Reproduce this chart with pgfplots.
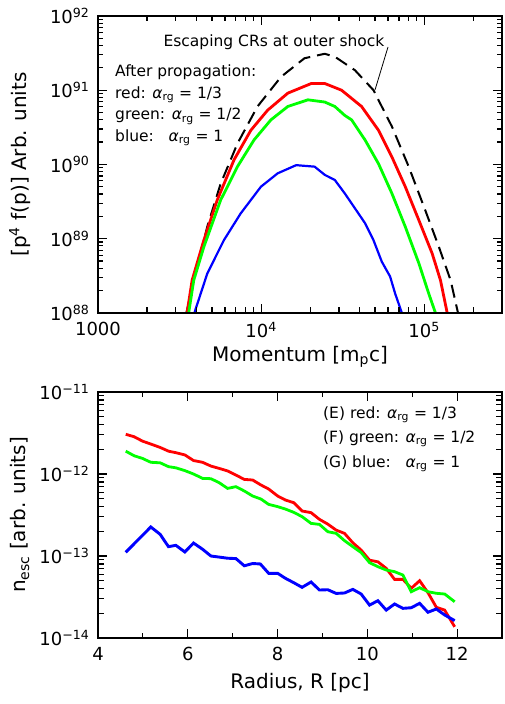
\documentclass[border=0pt]{standalone}
\usepackage{pgfplots}
\pgfplotsset{compat=1.18}
\usepackage{fontspec}
\setmainfont{DejaVu Sans}
\definecolor{pred}{RGB}{255,0,0}
\definecolor{pgreen}{RGB}{0,255,0}
\definecolor{pblue}{RGB}{0,0,255}
\newcommand{\alrg}{\textit{α}\textsubscript{rg}}
\pgfplotsset{myax/.style={
  scale only axis, width=404pt, axis on top=true,
  axis line style={line width=1.4pt},
  tick style={line width=1.2pt, draw=black},
  every major tick/.append style={line width=1.2pt, draw=black},
  every minor tick/.append style={line width=1.2pt, draw=black},
  major tick length=9pt, minor tick length=5.5pt,
  xtick align=inside, ytick align=inside,
  tick label style={font=\fontsize{18}{18}\selectfont},
  xticklabel style={yshift=-6pt},
  yticklabel style={xshift=-5pt},
  xlabel style={font=\fontsize{20}{20}\selectfont},
  ylabel style={font=\fontsize{20}{20}\selectfont, at={(axis description cs:-0.193,0.5)}, anchor=center},
}}
\begin{document}
\begin{tikzpicture}
\path[use as bounding box] (0,0) rectangle (504pt,704pt);
% ---------------- top panel ----------------
\begin{axis}[myax, at={(98pt,391pt)}, anchor=south west, height=297pt,
  xmode=log, ymode=log, xmin=1000, xmax=3e5, ymin=1e88, ymax=1e92,
  xtick={1000,10000,100000}, xticklabels={1000,10\textsuperscript{4},10\textsuperscript{5}},
  minor xtick={2000,3000,4000,5000,6000,7000,8000,9000,20000,30000,40000,50000,60000,70000,80000,90000,200000,300000},
  ytick={1e88,1e89,1e90,1e91,1e92},
  yticklabels={10\textsuperscript{88},10\textsuperscript{89},10\textsuperscript{90},10\textsuperscript{91},10\textsuperscript{92}},
  minor ytick={2e88,3e88,4e88,5e88,6e88,7e88,8e88,9e88,2e89,3e89,4e89,5e89,6e89,7e89,8e89,9e89,2e90,3e90,4e90,5e90,6e90,7e90,8e90,9e90,2e91,3e91,4e91,5e91,6e91,7e91,8e91,9e91},
  xlabel={Momentum [m\textsubscript{p}c]},
  xlabel style={at={(axis description cs:0.5,-0.148)}, anchor=center},
  ylabel={[p\textsuperscript{4} f(p)] Arb. units},
]
\addplot[black, line width=2pt, dash pattern=on 13pt off 7pt] coordinates {
(3483,1.0e88) (3954,3.39e88) (4677,1.45e89) (5649,5.50e89) (7161,1.91e90) (9506,6.03e90)
(13243,1.51e91) (18450,2.69e91) (24547,3.09e91) (28314,2.82e91) (37584,1.86e91) (48865,1.0e91)
(63387,3.24e90) (80353,9.33e89) (101620,2.40e89) (123030,7.76e88) (145210,2.75e88) (159590,1.10e88) (163000,0.9e88)};
\addplot[pred, line width=2.8pt] coordinates {
(3516,1.0e88) (3776,2.75e88) (4457,9.55e88) (5383,3.31e89) (6823,1.15e90) (8650,2.88e90)
(10965,5.37e90) (14588,9.12e90) (20324,1.23e91) (24547,1.23e91) (31117,1.0e91) (41305,6.03e90)
(52481,2.88e90) (63387,1.26e90) (76560,5.01e89) (92683,1.78e89) (111940,6.31e88) (125890,2.75e88) (138360,1.0e88)};
\addplot[pgreen, line width=2.8pt] coordinates {
(3597,1.0e88) (3864,2.75e88) (4457,7.76e88) (5649,3.31e89) (7161,9.33e89) (9057,2.14e90)
(11482,3.98e90) (14588,6.03e90) (19364,7.41e90) (24547,6.92e90) (28314,6.03e90) (32584,4.57e90)
(35892,3.98e90) (43351,2.14e90) (52481,1.02e90) (63387,4.07e89) (76560,1.45e89) (92683,4.68e88) (106660,1.82e88) (117220,1.0e88)};
\addplot[pblue, line width=2.2pt] coordinates {
(3899,1.0e88) (4677,3.39e88) (5916,9.55e88) (7499,2.19e89) (9977,5.01e89) (12647,7.59e89)
(16406,9.77e89) (21281,9.33e89) (24547,7.24e89) (28314,6.17e89) (32584,4.07e89) (37584,2.57e89)
(43351,1.62e89) (48865,9.55e88) (54954,4.90e88) (61802,3.09e88) (66374,1.82e88) (72946,1.0e88)};
\end{axis}
% ---------------- bottom panel ----------------
\begin{axis}[myax, at={(98pt,66pt)}, anchor=south west, height=246pt,
  ymode=log, xmin=4, xmax=13, ymin=1e-14, ymax=1e-11,
  xtick={4,6,8,10,12}, xticklabels={4,6,8,10,12}, minor xtick={5,7,9,11,13},
  ytick={1e-14,1e-13,1e-12,1e-11},
  yticklabels={10\textsuperscript{−14},10\textsuperscript{−13},10\textsuperscript{−12},10\textsuperscript{−11}},
  minor ytick={2e-14,3e-14,4e-14,5e-14,6e-14,7e-14,8e-14,9e-14,2e-13,3e-13,4e-13,5e-13,6e-13,7e-13,8e-13,9e-13,2e-12,3e-12,4e-12,5e-12,6e-12,7e-12,8e-12,9e-12},
  xlabel={Radius, R [pc]},
  xlabel style={at={(axis description cs:0.5,-0.183)}, anchor=center},
  ylabel={n\textsubscript{esc} [arb. units]},
]
\addplot[pred, line width=2.8pt] coordinates {
(4.618,3.05e-12) (4.804,2.85e-12) (4.990,2.52e-12) (5.176,2.32e-12) (5.384,2.11e-12) (5.570,1.90e-12)
(5.734,1.82e-12) (5.935,1.71e-12) (6.128,1.46e-12) (6.329,1.39e-12) (6.515,1.25e-12) (6.701,1.17e-12)
(6.887,1.09e-12) (7.073,9.7e-13) (7.259,8.6e-13) (7.445,8.45e-13) (7.631,7.34e-13) (7.802,6.56e-13)
(8.003,5.39e-13) (8.174,4.82e-13) (8.360,4.47e-13) (8.546,3.54e-13) (8.747,3.38e-13) (8.933,2.80e-13)
(9.119,2.45e-13) (9.305,2.07e-13) (9.491,1.89e-13) (9.677,1.45e-13) (9.863,1.18e-13) (10.049,8.9e-14)
(10.235,8.5e-14) (10.421,7.07e-14) (10.607,5.19e-14) (10.793,5.19e-14) (10.979,4.04e-14) (11.165,5.0e-14)
(11.351,3.57e-14) (11.537,2.37e-14) (11.723,2.19e-14) (11.946,1.37e-14)};
\addplot[pgreen, line width=2.8pt] coordinates {
(4.618,1.90e-12) (4.804,1.67e-12) (4.990,1.55e-12) (5.176,1.39e-12) (5.384,1.37e-12) (5.570,1.23e-12)
(5.734,1.19e-12) (5.935,1.10e-12) (6.128,1.0e-12) (6.329,8.85e-13) (6.515,8.77e-13) (6.701,7.83e-13)
(6.887,6.68e-13) (7.073,7.01e-13) (7.259,6.21e-13) (7.445,5.39e-13) (7.631,4.95e-13) (7.802,4.26e-13)
(8.003,4.0e-13) (8.174,3.74e-13) (8.360,3.41e-13) (8.546,3.02e-13) (8.747,2.50e-13) (8.933,2.43e-13)
(9.119,1.98e-13) (9.305,1.89e-13) (9.491,1.54e-13) (9.677,1.30e-13) (9.863,1.10e-13) (10.049,8.3e-14)
(10.235,7.41e-14) (10.421,6.75e-14) (10.607,6.44e-14) (10.793,5.86e-14) (10.979,3.67e-14) (11.165,4.11e-14)
(11.351,3.67e-14) (11.537,3.51e-14) (11.723,3.44e-14) (11.946,2.77e-14)};
\addplot[pblue, line width=2.9pt] coordinates {
(4.618,1.11e-13) (5.176,2.26e-13) (5.384,1.84e-13) (5.570,1.30e-13) (5.734,1.35e-13) (5.935,1.12e-13)
(6.128,1.44e-13) (6.329,1.21e-13) (6.515,1.00e-13) (6.701,9.7e-14) (6.887,9.4e-14) (7.073,9.3e-14)
(7.259,7.6e-14) (7.445,8.1e-14) (7.616,8.0e-14) (7.802,6.15e-14) (8.003,6.15e-14) (8.174,5.35e-14)
(8.360,4.73e-14) (8.546,4.15e-14) (8.747,4.82e-14) (8.933,3.85e-14) (9.119,3.88e-14) (9.305,3.5e-14)
(9.491,3.54e-14) (9.677,3.92e-14) (9.863,3.44e-14) (10.049,2.52e-14) (10.235,2.85e-14) (10.421,2.19e-14)
(10.607,2.60e-14) (10.793,2.30e-14) (10.979,2.34e-14) (11.165,2.65e-14) (11.351,2.06e-14) (11.537,2.26e-14)
(11.723,1.91e-14) (11.946,1.63e-14)};
\end{axis}
% ---------------- annotations ----------------
\begin{scope}[every node/.style={inner sep=0pt, font=\fontsize{15.5}{16}\selectfont}]
\node[anchor=base] at (274pt,657.3pt) {Escaping CRs at outer shock};
\draw[line width=0.8pt] (388pt,657pt) -- (375pt,614pt);
\node[anchor=base west] at (115pt,627.3pt) {After propagation:};
\node[anchor=base west] at (115pt,605.7pt) {red: \alrg{} = 1/3};
\node[anchor=base west] at (115pt,584pt) {green: \alrg{} = 1/2};
\node[anchor=base west] at (115pt,562.5pt) {blue:\ \ \ \alrg{} = 1};
\node[anchor=base west] at (323pt,285.7pt) {(E) red: \alrg{} = 1/3};
\node[anchor=base west] at (323pt,261.3pt) {(F) green: \alrg{} = 1/2};
\node[anchor=base west] at (323pt,236.7pt) {(G) blue:\ \ \ \alrg{} = 1};
\end{scope}
\end{tikzpicture}
\end{document}
